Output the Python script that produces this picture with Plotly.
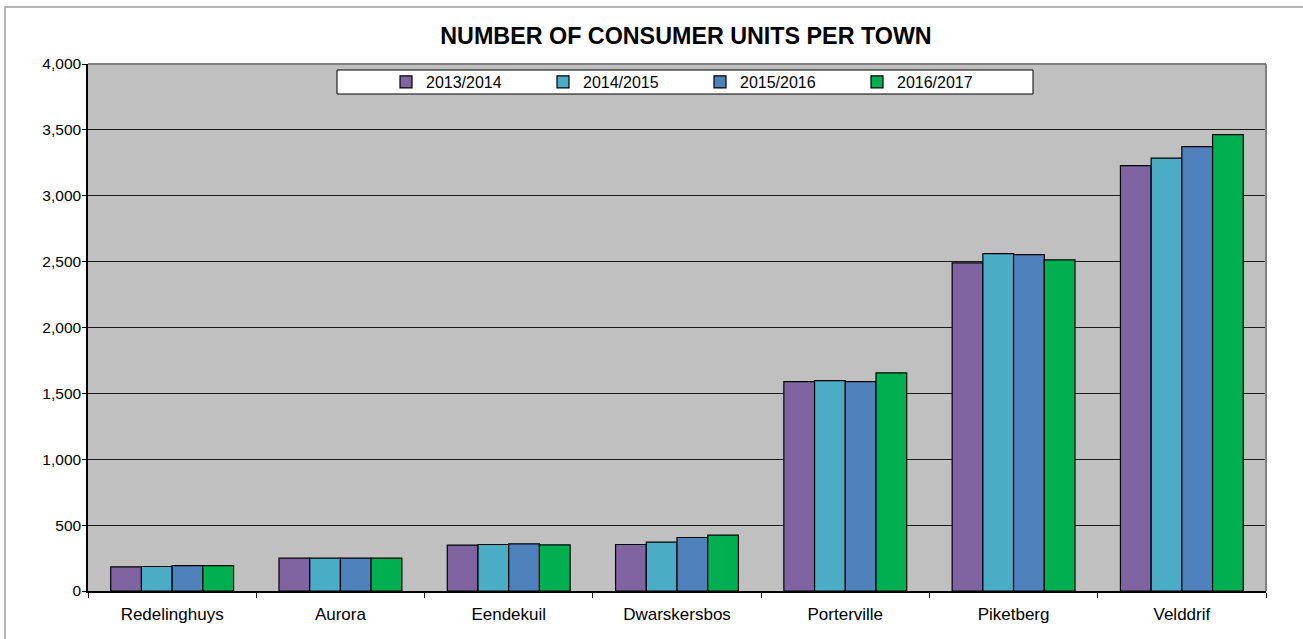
import plotly.graph_objects as go

# Towns and yearly consumer-unit counts
towns = ["Redelinghuys", "Aurora", "Eendekuil", "Dwarskersbos",
         "Porterville", "Piketberg", "Velddrif"]
years = ["2013/2014", "2014/2015", "2015/2016", "2016/2017"]

units_2013_14 = [183, 249, 348, 353, 1589, 2490, 3228]
units_2014_15 = [186, 250, 353, 371, 1597, 2561, 3286]
units_2015_16 = [193, 250, 358, 406, 1589, 2553, 3373]
units_2016_17 = [193, 249, 350, 424, 1655, 2513, 3464]

series = [units_2013_14, units_2014_15, units_2015_16, units_2016_17]
colors = ["#8064A2", "#4BACC6", "#4F81BD", "#00B050"]

W, H = 1303, 639
L, R, T, B = 88, 1266, 64, 591
pw, ph = R - L, B - T


def px_x(x):
    return (x - L) / pw


def px_y(y):
    return (B - y) / ph


fig = go.Figure()
for name, vals, col in zip(years, series, colors):
    fig.add_trace(go.Bar(
        x=towns, y=vals, name=name,
        marker=dict(color=col, line=dict(color="#000000", width=1.2)),
    ))

font_family = "Liberation Sans, Arial, sans-serif"

fig.update_layout(
    width=W, height=H,
    margin=dict(l=L, r=W - R, t=T, b=H - B, autoexpand=False),
    paper_bgcolor="#FFFFFF",
    plot_bgcolor="#C0C0C0",
    barmode="group",
    bargap=0.27,
    bargroupgap=0,
    font=dict(family=font_family, color="#000000"),
    title=dict(
        text="<b>NUMBER OF CONSUMER UNITS PER TOWN</b>",
        font=dict(size=23.3, family=font_family, color="#000000"),
        x=686 / W, xref="container", xanchor="center",
        y=1 - 36 / H, yref="container", yanchor="middle",
    ),
    legend=dict(
        orientation="h",
        x=px_x(386), xanchor="left",
        y=px_y(82), yanchor="middle",
        bgcolor="rgba(0,0,0,0)",
        borderwidth=0,
        entrywidth=112, entrywidthmode="pixels",
        itemwidth=30,
        font=dict(size=16, family=font_family, color="#000000"),
        traceorder="normal",
    ),
    xaxis=dict(
        type="category",
        tickson="boundaries",
        ticks="outside", ticklen=5, tickcolor="#000000", tickwidth=1,
        showline=True, linecolor="#000000", linewidth=1.5,
        showgrid=False,
        ticklabelstandoff=7,
        tickfont=dict(size=17, family=font_family, color="#000000"),
        fixedrange=True,
    ),
    yaxis=dict(
        range=[0, 4000], dtick=500, tickformat=",",
        ticks="outside", ticklen=4, tickcolor="#000000", tickwidth=1,
        showline=True, linecolor="#000000", linewidth=1.5,
        showgrid=True, gridcolor="#1A1A1A", gridwidth=1,
        zeroline=False,
        ticklabelstandoff=-2,
        tickfont=dict(size=15.5, family=font_family, color="#000000"),
        fixedrange=True,
    ),
    shapes=[
        # outer chart frame
        dict(type="rect", xref="paper", yref="paper",
             x0=px_x(5), x1=px_x(1320), y0=px_y(660), y1=px_y(7),
             line=dict(color="#A0A0A0", width=1.5), fillcolor="rgba(0,0,0,0)",
             layer="below"),
        # plot-area frame on top and right
        dict(type="line", xref="paper", yref="paper",
             x0=0, x1=1, y0=1, y1=1,
             line=dict(color="#808080", width=2), layer="above"),
        dict(type="line", xref="paper", yref="paper",
             x0=1, x1=1, y0=0, y1=1,
             line=dict(color="#808080", width=2), layer="above"),
        # legend box
        dict(type="rect", xref="paper", yref="paper",
             x0=px_x(337), x1=px_x(1033), y0=px_y(94), y1=px_y(70),
             line=dict(color="#000000", width=1), fillcolor="#FFFFFF",
             layer="above"),
    ],
)

fig.write_html("out.html")
